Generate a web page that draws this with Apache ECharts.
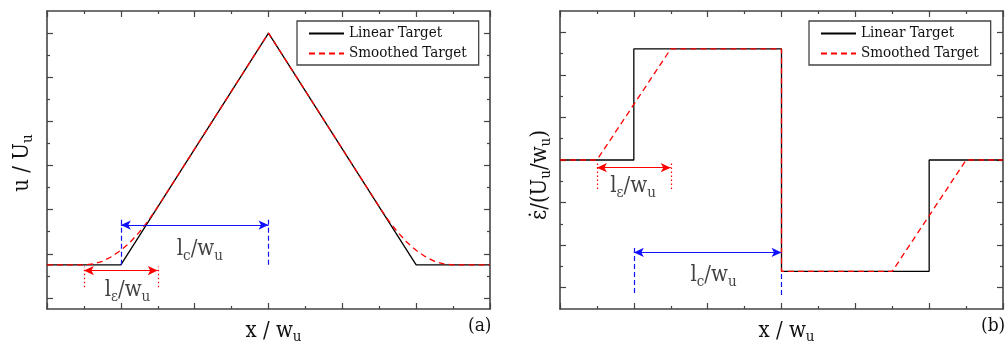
<!DOCTYPE html>
<html><head><meta charset="utf-8">
<script src="https://cdn.jsdelivr.net/npm/echarts@6/dist/echarts.min.js"></script>
<style>html,body{margin:0;padding:0;background:#fff}#c{width:1005px;height:344px}</style>
</head><body><div id="c"></div>
<script>
// ---- data ----
const xLinearA = [0, 1, 3, 5, 6];
const yLinearA = [1.5, 1.5, 12, 1.5, 1.5];
const xSmoothA = [0, 0.5, 0.625, 0.75, 0.875, 1, 1.125, 1.25, 1.375, 1.5, 3, 4.5, 4.625, 4.75, 4.875, 5, 5.125, 5.25, 5.375, 5.5, 6];
const ySmoothA = [1.5, 1.5, 1.54, 1.66, 1.87, 2.16, 2.52, 2.98, 3.51, 4.13, 12, 4.13, 3.51, 2.98, 2.52, 2.16, 1.87, 1.66, 1.54, 1.5, 1.5];
const xLinearB = [0, 1, 1, 3, 3, 5, 5, 6];
const yLinearB = [7, 7, 12.22, 12.22, 1.77, 1.77, 7, 7];
const xSmoothB = [0, 0.5, 1.5, 3, 3, 4.5, 5.5, 6];
const ySmoothB = [7, 7, 12.22, 12.22, 1.77, 1.77, 7, 7];

const yMajorTicksA = [0, 2, 4, 6, 8, 10, 12];
const yMinorTicksA = [1, 3, 5, 7, 9, 11];
const yMajorTicksB = [1, 3, 5, 7, 9, 11, 13];
const yMinorTicksB = [2, 4, 6, 8, 10, 12];

const seriesNames = ['Linear Target', 'Smoothed Target'];

// annotations: [x1, x2, y]
const lcArrowA = [1, 3, 3.3];
const leArrowA = [0.5, 1.5, 1.24];
const lcArrowB = [1, 3, 2.66];
const leArrowB = [0.5, 1.5, 6.64];
// vertical guides: [x, y1, y2]
const lcGuidesA = [[1, 1.5, 3.55], [3, 1.5, 3.62]];
const leGuidesA = [[0.5, 0.48, 1.42], [1.5, 0.48, 1.42]];
const lcGuidesB = [[1, 0.75, 2.87], [3, 0.66, 1.75]];
const leGuidesB = [[0.5, 5.64, 6.86], [1.5, 5.64, 6.86]];
// label positions [x, y]
const lcLabelA = [2.07, 2.2];
const leLabelA = [1.09, 0.34];
const lcLabelB = [2.08, 1.58];
const leLabelB = [0.99, 5.75];

// ---- styling ----
const FONT = "'DejaVu Serif Condensed','DejaVu Serif',serif";
const AX = '#444';
const rich = {
  m: {fontFamily: FONT, fontSize: 22, color: '#111'},
  s: {fontFamily: FONT, fontSize: 15, color: '#111', padding: [13, 0, 0, 0]}
};
const zip = (xs, ys) => xs.map((x, i) => [x, ys[i]]);

function xAx(grid, pos) {
  return {
    type: 'value', gridIndex: grid, position: pos, min: 0, max: 6, interval: 1,
    axisLine: {show: true, onZero: false, lineStyle: {color: AX, width: 1.6}},
    axisTick: {show: true, inside: true, length: 6, lineStyle: {color: AX, width: 1.2}},
    minorTick: {show: true, splitNumber: 2, length: 3, lineStyle: {color: AX, width: 1.2}},
    axisLabel: {show: false}, splitLine: {show: false},
    name: pos === 'bottom' ? '{m|x / w}{s|u}' : '',
    nameLocation: 'middle', nameGap: 8,
    nameTextStyle: {rich, padding: [0, 0, 0, 10]}
  };
}
function yAx(grid, pos, min, max, ticks, len, showLine, name, nameGap, namePad) {
  return {
    type: 'value', gridIndex: grid, position: pos, min, max,
    axisLine: {show: showLine, onZero: false, lineStyle: {color: AX, width: 1.6}},
    axisTick: {show: true, inside: true, length: len, customValues: ticks, lineStyle: {color: AX, width: 1.2}},
    axisLabel: {show: false}, splitLine: {show: false},
    name: name || '', nameLocation: 'middle', nameGap: nameGap || 10,
    nameTextStyle: {rich, padding: namePad || 0}
  };
}

function annSeries(xi, yi, arrow, guides, color, guideType, label, labelPos) {
  const base = {xAxisIndex: xi, yAxisIndex: yi, silent: true};
  return [
    Object.assign({}, base, {
      type: 'line', name: 'arrow' + xi + color, data: [],
      markLine: {
        silent: true, symbol: ['arrow', 'arrow'], symbolSize: [7, 10],
        lineStyle: {color, width: 1.2, type: 'solid'}, label: {show: false},
        animation: false,
        data: [[{coord: [arrow[0], arrow[2]]}, {coord: [arrow[1], arrow[2]]}]]
      }
    }),
    Object.assign({}, base, {
      type: 'line', name: 'guide' + xi + color, data: [],
      markLine: {
        silent: true, symbol: 'none',
        lineStyle: {color, width: 1.2, type: guideType}, label: {show: false},
        animation: false,
        data: guides.map(g => [{coord: [g[0], g[1]]}, {coord: [g[0], g[2]]}])
      }
    }),
    Object.assign({}, base, {
      type: 'scatter', name: 'label' + xi + color, symbolSize: 0,
      data: [labelPos],
      label: {show: true, position: 'inside', formatter: label, rich}
    })
  ];
}

const chart = echarts.init(document.getElementById('c'), null, {renderer: 'canvas'});
const lineBlack = {color: '#000', width: 1.3};
const lineRed = {color: '#ff0000', width: 1.3, type: [6, 4]};

const option = {
  animation: false,
  backgroundColor: '#fff',
  grid: [
    {left: 47, top: 11, width: 443, height: 298, outerBoundsMode: 'none', containLabel: false},
    {left: 560, top: 11, width: 443, height: 298, outerBoundsMode: 'none', containLabel: false}
  ],
  xAxis: [xAx(0, 'bottom'), xAx(0, 'top'), xAx(1, 'bottom'), xAx(1, 'top')],
  yAxis: [
    yAx(0, 'left', -0.5, 13, yMajorTicksA, 6, true, '{m|u / U}{s|u}', 11, [0, 6, 0, 0]),
    yAx(0, 'left', -0.5, 13, yMinorTicksA, 3, false),
    yAx(0, 'right', -0.5, 13, yMajorTicksA, 6, true),
    yAx(0, 'right', -0.5, 13, yMinorTicksA, 3, false),
    yAx(1, 'left', 0, 14, yMajorTicksB, 6, true, '{m|ε̇/(U}{s|u}{m|/w}{s|u}{m|)}', 6, [0, 30, 0, 0]),
    yAx(1, 'left', 0, 14, yMinorTicksB, 3, false),
    yAx(1, 'right', 0, 14, yMajorTicksB, 6, true),
    yAx(1, 'right', 0, 14, yMinorTicksB, 3, false)
  ],
  legend: [0, 1].map(i => ({
    data: seriesNames, orient: 'vertical', left: i === 0 ? 297 : 809, top: 21,
    selectedMode: false, backgroundColor: '#fff',
    borderColor: AX, borderWidth: 1.3, borderRadius: 0,
    padding: [5, 12, 4, 11], itemGap: 5, itemWidth: 35, itemHeight: 14,
    itemStyle: {opacity: 0, borderWidth: 0},
    textStyle: {fontFamily: FONT, fontSize: 15, color: '#111', padding: [0, 0, 0, 0]}
  })),
  graphic: [
    {type: 'text', left: 468, top: 317, style: {text: '(a)', font: '19px ' + FONT, fill: '#111'}},
    {type: 'text', left: 981, top: 317, style: {text: '(b)', font: '19px ' + FONT, fill: '#111'}}
  ],
  series: [
    {type: 'line', name: seriesNames[0], xAxisIndex: 0, yAxisIndex: 0, data: zip(xLinearA, yLinearA), symbol: 'none', lineStyle: lineBlack, itemStyle: {color: '#000'}},
    {type: 'line', name: seriesNames[1], xAxisIndex: 0, yAxisIndex: 0, data: zip(xSmoothA, ySmoothA), symbol: 'none', lineStyle: lineRed, itemStyle: {color: '#ff0000'}},
    {type: 'line', name: seriesNames[0], xAxisIndex: 2, yAxisIndex: 4, data: zip(xLinearB, yLinearB), symbol: 'none', lineStyle: lineBlack, itemStyle: {color: '#000'}},
    {type: 'line', name: seriesNames[1], xAxisIndex: 2, yAxisIndex: 4, data: zip(xSmoothB, ySmoothB), symbol: 'none', lineStyle: lineRed, itemStyle: {color: '#ff0000'}},
    ...annSeries(0, 0, lcArrowA, lcGuidesA, '#1010ff', [5, 3], '{m|l}{s|c}{m|/w}{s|u}', lcLabelA),
    ...annSeries(0, 0, leArrowA, leGuidesA, '#ff0000', [1.5, 2.5], '{m|l}{s|ε}{m|/w}{s|u}', leLabelA),
    ...annSeries(2, 4, lcArrowB, lcGuidesB, '#1010ff', [5, 3], '{m|l}{s|c}{m|/w}{s|u}', lcLabelB),
    ...annSeries(2, 4, leArrowB, leGuidesB, '#ff0000', [1.5, 2.5], '{m|l}{s|ε}{m|/w}{s|u}', leLabelB)
  ]
};
chart.setOption(option);
</script></body></html>
